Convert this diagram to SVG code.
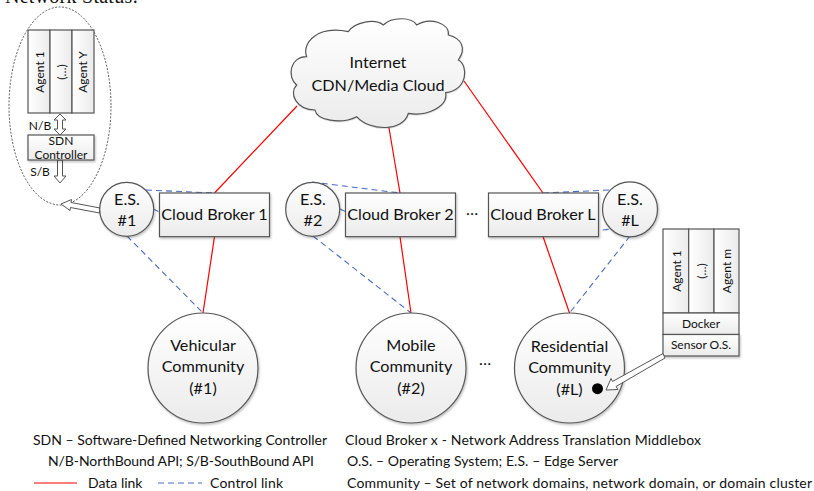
<svg xmlns="http://www.w3.org/2000/svg" width="814" height="491" viewBox="0 0 814 491">
<style>
text{font-family:"Lato","Carlito","Open Sans",sans-serif;fill:#111;text-anchor:middle}
.n{font-size:16.200px}.s{font-size:12px}.l{font-size:14px;text-anchor:start}
.box{fill:url(#g);stroke:#555;stroke-width:1.2}
.data{stroke:#f00;stroke-width:1.2;fill:none}
.ctl{stroke:#4a6cc0;stroke-width:1.100;fill:none;stroke-dasharray:6 4}
.arrow{fill:#fff;stroke:#555;stroke-width:1}
</style>
<defs>
<linearGradient id="g" x1="0" y1="0" x2="0" y2="1"><stop offset="0" stop-color="#fff"/><stop offset="1" stop-color="#ebebeb"/></linearGradient>
<linearGradient id="h" x1="0" y1="0" x2="1" y2="0"><stop offset="0" stop-color="#fff"/><stop offset="1" stop-color="#ebebeb"/></linearGradient>
<filter id="sh" x="-10%" y="-10%" width="125%" height="125%"><feDropShadow dx="1" dy="1.5" stdDeviation="1" flood-color="#000" flood-opacity=".25"/></filter>
</defs>
<text x="5" y="3" textLength="133" style="font-family:'Liberation Serif',serif;font-size:20px;text-anchor:start">Network Status:</text>
<g id="connectors">
<path class="data" d="M297 106L214.500 193M214.500 236.700L203 313M389 128L400 193M400 236.700L411 313M464 81L543 193M543 236.500L569.500 313"/>
<path class="ctl" d="M146 190L214.500 193M153 209L214.500 236.700M127 236L203 313M312 182L400 193M340 209L400 236.700M313 236L411 313M543 193L610 190M543 236.500L612 229M630 236L569.500 313"/>
<path class="arrow" d="M60 114L66 120L62.500 120L62.500 129L66 129L60 135L54 129L57.500 129L57.500 120L54 120Z"/>
<path class="arrow" d="M57.500 160L62.500 160L62.500 176L66 176L60 183L54 176L57.500 176Z"/>
</g>
<g id="sdn-cluster">
<ellipse cx="60" cy="106" rx="51" ry="99" fill="none" stroke="#444" stroke-width=".9" stroke-dasharray="2 1.500"/>
<rect class="box" x="28" y="30" width="22" height="83" style="fill:url(#h)"/>
<rect class="box" x="50" y="30" width="22" height="83" style="fill:url(#h)"/>
<rect class="box" x="72" y="30" width="22" height="83" style="fill:url(#h)"/>
<text class="s" transform="translate(44 72) rotate(-90)">Agent 1</text>
<text class="s" transform="translate(66 72) rotate(-90)">(…)</text>
<text class="s" transform="translate(87 72) rotate(-90)">Agent Y</text>
<rect class="box" x="28" y="135" width="66" height="25" filter="url(#sh)"/>
<text class="s" x="61" y="145">SDN</text>
<text class="s" x="61" y="159">Controller</text>
<text class="s" x="40" y="130">N/B</text>
<text class="s" x="40" y="176">S/B</text>
<path class="arrow" d="M100 208L71 202.500L71.500 199.500L61 204L70 210.500L70.500 207.500L99.500 213Z"/>
</g>
<g id="internet">
<path transform="translate(280 10) scale(.3333)" d="M80 140C65 100 110 45 205 65C225 35 285 25 310 45C335 20 395 20 410 45C450 20 510 40 505 75C545 85 560 115 535 150C565 165 565 240 497 248C505 290 440 320 385 310C370 365 270 365 230 320C180 345 110 330 105 300C50 300 25 250 50 225C20 200 30 140 80 140Z" fill="url(#g)" stroke="#555" stroke-width="3.500" filter="url(#sh)"/>
<text class="n" x="378" y="68">Internet</text>
<text class="n" x="378" y="91">CDN/Media Cloud</text>
</g>
<g id="es1"><circle class="box" cx="126.700" cy="209.300" r="27" filter="url(#sh)"/><text class="n" x="127" y="205">E.S.</text><text class="n" x="127" y="226">#1</text></g>
<g id="broker1"><rect class="box" x="159.500" y="193" width="110" height="43.700" filter="url(#sh)"/><text class="n" x="214.500" y="220">Cloud Broker 1</text></g>
<g id="es2"><circle class="box" cx="312.700" cy="209.300" r="27" filter="url(#sh)"/><text class="n" x="313" y="205">E.S.</text><text class="n" x="313" y="226">#2</text></g>
<g id="broker2"><rect class="box" x="345.500" y="193" width="110" height="43.700" filter="url(#sh)"/><text class="n" x="400.500" y="220">Cloud Broker 2</text></g>
<g id="brokerL"><rect class="box" x="488.500" y="193" width="110" height="43.700" filter="url(#sh)"/><text class="n" x="543" y="220">Cloud Broker L</text></g>
<g id="esL"><circle class="box" cx="630" cy="209.300" r="27.500" filter="url(#sh)"/><text class="n" x="630" y="205">E.S.</text><text class="n" x="630" y="226">#L</text></g>
<text class="n" x="472" y="215">…</text>
<g id="vehicular"><circle class="box" cx="203" cy="368" r="55" filter="url(#sh)"/><text class="n" x="203" y="351">Vehicular</text><text class="n" x="203" y="372">Community</text><text class="n" x="203" y="394">(#1)</text></g>
<g id="mobile"><circle class="box" cx="411" cy="368" r="55" filter="url(#sh)"/><text class="n" x="411" y="351">Mobile</text><text class="n" x="411" y="372">Community</text><text class="n" x="411" y="394">(#2)</text></g>
<g id="residential"><circle class="box" cx="569.500" cy="368" r="55" filter="url(#sh)"/><text class="n" x="569.500" y="352">Residential</text><text class="n" x="569.500" y="373">Community</text><text class="n" x="569.500" y="395">(#L)</text><circle cx="597.500" cy="388.700" r="5.500" fill="#000"/></g>
<text class="n" x="485" y="365">…</text>
<g id="sensor">
<rect class="box" x="663" y="229" width="25.700" height="84" style="fill:url(#h)"/>
<rect class="box" x="688.700" y="229" width="25.300" height="84" style="fill:url(#h)"/>
<rect class="box" x="714" y="229" width="25" height="84" style="fill:url(#h)"/>
<text class="s" transform="translate(681 271) rotate(-90)">Agent 1</text>
<text class="s" transform="translate(706 271) rotate(-90)">(…)</text>
<text class="s" transform="translate(731 271) rotate(-90)">Agent m</text>
<rect class="box" x="663" y="313" width="76" height="21.500"/>
<text class="s" x="701" y="328">Docker</text>
<rect class="box" x="663" y="334.500" width="76" height="21.500" filter="url(#sh)"/>
<text class="s" x="701" y="349">Sensor O.S.</text>
<path class="arrow" d="M663 353.500L612.500 381.500L611 378.500L606 390L618 389.500L616 386.500L665 358Z"/>
</g>
<g id="legend">
<text class="l" x="33" y="445" textLength="294">SDN – Software-Defined Networking Controller</text>
<text class="l" x="345" y="445" textLength="356">Cloud Broker x - Network Address Translation Middlebox</text>
<text class="l" x="48" y="466" textLength="266">N/B-NorthBound API; S/B-SouthBound API</text>
<text class="l" x="347" y="466" textLength="271">O.S. – Operating System; E.S. – Edge Server</text>
<path class="data" d="M34 483L77 483"/>
<text class="l" x="88" y="488">Data link</text>
<path class="ctl" d="M158 483L202 483"/>
<text class="l" x="210" y="488" textLength="73">Control link</text>
<text class="l" x="347" y="488" textLength="465">Community – Set of network domains, network domain, or domain cluster</text>
</g>
</svg>
